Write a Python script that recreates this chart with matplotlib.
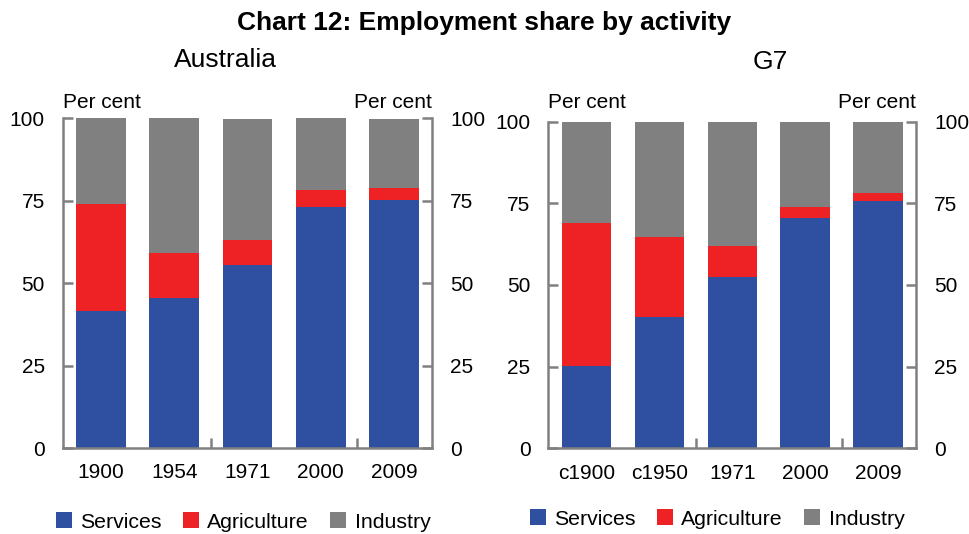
import matplotlib
matplotlib.use("Agg")
import matplotlib.pyplot as plt
from matplotlib.patches import Patch

plt.rcParams['font.family'] = ['Liberation Sans', 'DejaVu Sans']

# Data
aus_labels = ["1900", "1954", "1971", "2000", "2009"]
aus_services = [41.6, 45.5, 55.5, 73.0, 75.2]
aus_agriculture = [32.3, 13.6, 7.5, 5.2, 3.6]
aus_industry = [26.1, 40.9, 36.7, 21.8, 20.9]

g7_labels = ["c1900", "c1950", "1971", "2000", "2009"]
g7_services = [25.3, 40.2, 52.4, 70.6, 75.7]
g7_agriculture = [43.6, 24.5, 9.6, 3.3, 2.5]
g7_industry = [30.9, 35.1, 38.0, 26.1, 21.8]

series_names = ["Services", "Agriculture", "Industry"]
colors = ["#2F4FA0", "#EE2224", "#808080"]
yticks = [0, 25, 50, 75, 100]

fig = plt.figure(figsize=(9.69, 5.34), dpi=100)
ax1 = fig.add_axes([0.065, 0.161, 0.381, 0.618])
ax2 = fig.add_axes([0.566, 0.1605, 0.3795, 0.6116])

spine_col = "#808080"


def draw(ax, labels, s, a, i, title, title_x, title_y, legend_x, legend_y):
    x = list(range(len(labels)))
    w = 0.68
    ax.bar(x, s, width=w, color=colors[0], label=series_names[0])
    bottom2 = [v for v in s]
    ax.bar(x, a, width=w, bottom=bottom2, color=colors[1], label=series_names[1])
    bottom3 = [p + q for p, q in zip(s, a)]
    ax.bar(x, i, width=w, bottom=bottom3, color=colors[2], label=series_names[2])
    ax.set_xlim(-0.52, len(labels) - 1 + 0.52)
    ax.set_ylim(0, 100)
    ax.set_yticks(yticks)
    ax.set_xticks(x)
    ax.set_xticklabels(labels)
    ax.set_xticks([1.5, 3.5], minor=True)
    for side in ["left", "right", "bottom"]:
        ax.spines[side].set_color(spine_col)
        ax.spines[side].set_linewidth(1.8)
    ax.spines["top"].set_visible(False)
    ax.tick_params(axis="y", direction="in", left=True, right=True,
                   labelleft=True, labelright=True, length=7, width=1.8,
                   color=spine_col, labelsize=15, pad=13)
    ax.tick_params(axis="x", which="major", length=0, labelsize=15, pad=11)
    ax.tick_params(axis="x", which="minor", direction="in", length=7,
                   width=1.8, color=spine_col)
    bb = ax.get_position()
    pc_y = 1 - 102 / 534
    fig.text(bb.x0, pc_y, "Per cent", ha="left", va="center", fontsize=15)
    fig.text(bb.x1, pc_y, "Per cent", ha="right", va="center", fontsize=15)
    fig.text(title_x, title_y, title, ha="center", va="center", fontsize=19)
    handles = [Patch(facecolor=c, edgecolor="none") for c in colors]
    fig.legend(handles, series_names, loc="center",
               bbox_to_anchor=(legend_x, legend_y), ncol=3, frameon=False,
               fontsize=15.3, handlelength=0.75, handleheight=0.75,
               handletextpad=0.4, columnspacing=1.0)


draw(ax1, aus_labels, aus_services, aus_agriculture, aus_industry,
     "Australia", 225 / 969, 1 - 60 / 534, 243 / 969, 1 - 522 / 534)
draw(ax2, g7_labels, g7_services, g7_agriculture, g7_industry,
     "G7", 770 / 969, 1 - 62 / 534, 717 / 969, 1 - 519 / 534)

fig.text(0.5, 1 - 23 / 534, "Chart 12: Employment share by activity",
         ha="center", va="center", fontsize=19, fontweight="bold")

fig.savefig("out.png", dpi=100)
